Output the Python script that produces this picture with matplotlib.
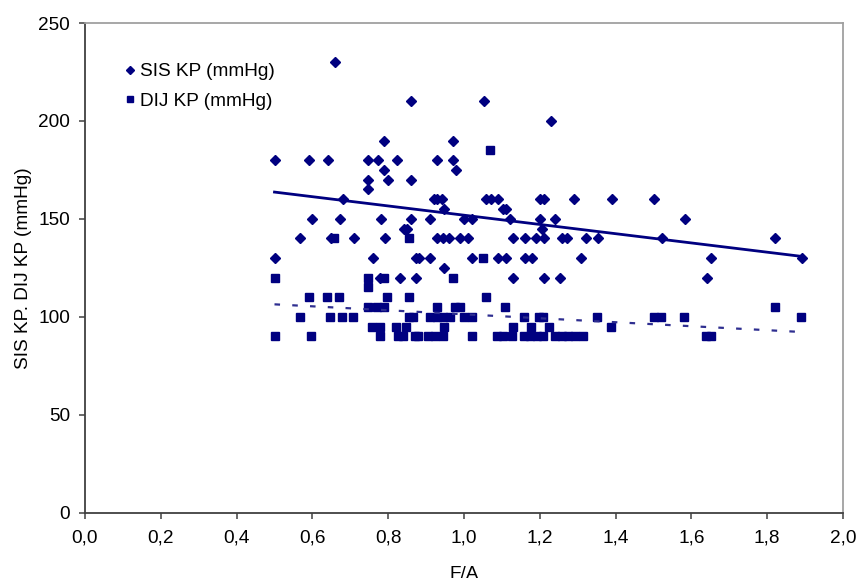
import numpy as np
import matplotlib
matplotlib.use("Agg")
import matplotlib.pyplot as plt
from matplotlib.ticker import FuncFormatter

plt.rcParams['font.family'] = ['Liberation Sans', 'DejaVu Sans']

# SIS KP points (F/A, mmHg)
sis_x = [0.50, 0.50, 0.568, 0.591, 0.599, 0.640, 0.648, 0.660, 0.673, 0.680,
         0.710, 0.748, 0.748, 0.748, 0.761, 0.772, 0.778, 0.780, 0.790, 0.790,
         0.792, 0.800, 0.822, 0.830, 0.842, 0.849, 0.860, 0.860, 0.860, 0.873,
         0.873, 0.880, 0.910, 0.910, 0.920, 0.929, 0.929, 0.929, 0.941, 0.945,
         0.948, 0.948, 0.960, 0.972, 0.972, 0.980, 0.990, 1.001, 1.010, 1.021,
         1.021, 1.053, 1.058, 1.070, 1.091, 1.091, 1.102, 1.111, 1.111, 1.121,
         1.130, 1.130, 1.160, 1.160, 1.180, 1.190, 1.200, 1.200, 1.205, 1.211,
         1.211, 1.211, 1.230, 1.240, 1.253, 1.258, 1.271, 1.291, 1.310, 1.322,
         1.353, 1.390, 1.502, 1.522, 1.582, 1.640, 1.652, 1.821, 1.891]
sis_y = [180, 130, 140, 180, 150, 180, 140, 230, 150, 160,
         140, 180, 170, 165, 130, 180, 120, 150, 190, 175,
         140, 170, 180, 120, 145, 145, 210, 170, 150, 130,
         120, 130, 150, 130, 160, 180, 160, 140, 160, 140,
         155, 125, 140, 190, 180, 175, 140, 150, 140, 150,
         130, 210, 160, 160, 160, 130, 155, 155, 130, 150,
         140, 120, 140, 130, 130, 140, 160, 150, 145, 160,
         140, 120, 200, 150, 120, 140, 140, 160, 130, 140,
         140, 160, 160, 140, 150, 120, 130, 140, 130]

# DIJ KP points
dij_x = [0.50, 0.50, 0.566, 0.590, 0.597, 0.639, 0.646, 0.658, 0.670, 0.678,
         0.708, 0.748, 0.748, 0.748, 0.757, 0.770, 0.778, 0.778, 0.790, 0.790,
         0.797, 0.821, 0.827, 0.840, 0.846, 0.856, 0.856, 0.856, 0.866, 0.872,
         0.879, 0.906, 0.910, 0.923, 0.928, 0.928, 0.945, 0.945, 0.948, 0.963,
         0.970, 0.977, 0.990, 0.999, 1.020, 1.020, 1.051, 1.058, 1.069, 1.086,
         1.104, 1.108, 1.126, 1.128, 1.157, 1.159, 1.174, 1.178, 1.192, 1.199,
         1.209, 1.209, 1.223, 1.240, 1.258, 1.275, 1.293, 1.315, 1.350, 1.389,
         1.500, 1.519, 1.580, 1.638, 1.652, 1.820, 1.888]
dij_y = [120, 90, 100, 110, 90, 110, 100, 140, 110, 100,
         100, 120, 115, 105, 95, 105, 95, 90, 120, 105,
         110, 95, 90, 90, 95, 140, 110, 100, 100, 90,
         90, 90, 100, 90, 105, 100, 100, 90, 95, 100,
         120, 105, 105, 100, 100, 90, 130, 110, 185, 90,
         90, 105, 90, 95, 90, 100, 90, 95, 90, 100,
         100, 90, 95, 90, 90, 90, 90, 90, 100, 95,
         100, 100, 100, 90, 90, 105, 100]

navy = '#000080'
fs = 13.7

fig = plt.figure(figsize=(8.59, 5.78), dpi=100)
ax = fig.add_axes([85 / 859, 65.3 / 578, 758 / 859, 489.7 / 578])

ax.plot(sis_x, sis_y, 'D', color=navy, markersize=5.6, linestyle='none',
        label='SIS KP (mmHg)')
ax.plot(dij_x, dij_y, 's', color=navy, markersize=6.2, linestyle='none',
        label='DIJ KP (mmHg)')

# linear trend lines
for xs, ys, style in [(sis_x, sis_y, 'solid'), (dij_x, dij_y, 'dashed')]:
    k, b = np.polyfit(xs, ys, 1)
    xx = np.array([min(xs), max(xs)])
    if style == 'solid':
        ax.plot(xx, k * xx + b, color=navy, lw=2.0, zorder=3)
    else:
        ax.plot(xx, k * xx + b, color='#2e2e90', lw=1.6, zorder=3,
                linestyle=(0, (2.5, 5.5)))

ax.set_xlim(0, 2.0)
ax.set_ylim(0, 250)
ax.set_xticks(np.arange(0, 2.01, 0.2))
ax.set_yticks(range(0, 251, 50))
ax.xaxis.set_major_formatter(FuncFormatter(lambda v, p: f'{v:.1f}'.replace('.', ',')))

for s in ['left', 'bottom']:
    ax.spines[s].set_color('#404040')
    ax.spines[s].set_linewidth(1.3)
for s in ['top', 'right']:
    ax.spines[s].set_color('#a0a0a0')
    ax.spines[s].set_linewidth(1.3)

ax.tick_params(axis='x', direction='out', length=4, width=1.1, color='#404040',
               labelsize=fs, pad=8)
ax.tick_params(axis='y', direction='out', length=4.3, width=1.1, color='#404040',
               labelsize=fs, pad=6.5)

ax.set_xlabel('F/A', fontsize=fs)
ax.xaxis.set_label_coords(0.5, -0.109)
ax.set_ylabel('SIS KP. DIJ KP (mmHg)', fontsize=fs)
ax.yaxis.set_label_coords(-0.07, 0.5)

ax.legend(loc='upper left', bbox_to_anchor=(0.052, 0.918), frameon=False,
          fontsize=fs, borderpad=0, borderaxespad=0, handlelength=0.6,
          handletextpad=0.2, labelspacing=0.63, markerscale=0.8)

fig.savefig('out.png', dpi=100)
